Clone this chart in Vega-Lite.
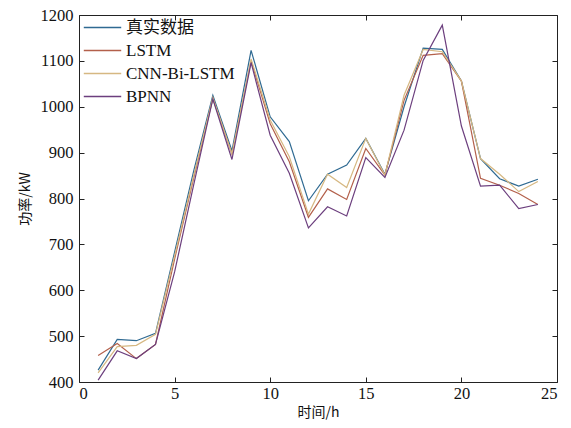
{
  "$schema": "https://vega.github.io/schema/vega-lite/v6.json",
  "width": 478,
  "height": 367,
  "autosize": {"type": "none"},
  "padding": {"left": 79, "top": 15, "right": 14, "bottom": 46},
  "background": "white",
  "config": {
    "font": "Liberation Serif, Noto Sans CJK SC",
    "view": {"stroke": "#222", "strokeWidth": 1},
    "axis": {
      "grid": false,
      "domain": false,
      "tickColor": "#222",
      "tickSize": -5,
      "tickWidth": 1,
      "labelFont": "Liberation Serif",
      "labelFontSize": 16.5,
      "labelColor": "#111",
      "format": "d",
      "titleFont": "Noto Sans CJK SC, Liberation Serif",
      "titleFontSize": 14,
      "titleFontWeight": "normal",
      "titleColor": "#111"
    },
    "legend": {
      "labelFont": "Liberation Serif, Noto Sans CJK SC",
      "labelFontSize": 17,
      "labelColor": "#111"
    }
  },
  "datasets": {
    "d": [
      {"h":1,"s":"真实数据","v":426},{"h":2,"s":"真实数据","v":493},{"h":3,"s":"真实数据","v":490},{"h":4,"s":"真实数据","v":506},{"h":5,"s":"真实数据","v":683},{"h":6,"s":"真实数据","v":860},{"h":7,"s":"真实数据","v":1025},{"h":8,"s":"真实数据","v":904},{"h":9,"s":"真实数据","v":1123},{"h":10,"s":"真实数据","v":978},{"h":11,"s":"真实数据","v":924},{"h":12,"s":"真实数据","v":795},{"h":13,"s":"真实数据","v":853},{"h":14,"s":"真实数据","v":873},{"h":15,"s":"真实数据","v":931},{"h":16,"s":"真实数据","v":853},{"h":17,"s":"真实数据","v":1000},{"h":18,"s":"真实数据","v":1128},{"h":19,"s":"真实数据","v":1125},{"h":20,"s":"真实数据","v":1056},{"h":21,"s":"真实数据","v":887},{"h":22,"s":"真实数据","v":843},{"h":23,"s":"真实数据","v":827},{"h":24,"s":"真实数据","v":842},
      {"h":1,"s":"LSTM","v":458},{"h":2,"s":"LSTM","v":484},{"h":3,"s":"LSTM","v":451},{"h":4,"s":"LSTM","v":482},{"h":5,"s":"LSTM","v":668},{"h":6,"s":"LSTM","v":845},{"h":7,"s":"LSTM","v":1018},{"h":8,"s":"LSTM","v":897},{"h":9,"s":"LSTM","v":1100},{"h":10,"s":"LSTM","v":963},{"h":11,"s":"LSTM","v":880},{"h":12,"s":"LSTM","v":759},{"h":13,"s":"LSTM","v":821},{"h":14,"s":"LSTM","v":798},{"h":15,"s":"LSTM","v":909},{"h":16,"s":"LSTM","v":851},{"h":17,"s":"LSTM","v":1014},{"h":18,"s":"LSTM","v":1112},{"h":19,"s":"LSTM","v":1116},{"h":20,"s":"LSTM","v":1056},{"h":21,"s":"LSTM","v":844},{"h":22,"s":"LSTM","v":829},{"h":23,"s":"LSTM","v":811},{"h":24,"s":"LSTM","v":787},
      {"h":1,"s":"CNN-Bi-LSTM","v":420},{"h":2,"s":"CNN-Bi-LSTM","v":477},{"h":3,"s":"CNN-Bi-LSTM","v":480},{"h":4,"s":"CNN-Bi-LSTM","v":504},{"h":5,"s":"CNN-Bi-LSTM","v":675},{"h":6,"s":"CNN-Bi-LSTM","v":850},{"h":7,"s":"CNN-Bi-LSTM","v":1020},{"h":8,"s":"CNN-Bi-LSTM","v":897},{"h":9,"s":"CNN-Bi-LSTM","v":1104},{"h":10,"s":"CNN-Bi-LSTM","v":971},{"h":11,"s":"CNN-Bi-LSTM","v":891},{"h":12,"s":"CNN-Bi-LSTM","v":766},{"h":13,"s":"CNN-Bi-LSTM","v":853},{"h":14,"s":"CNN-Bi-LSTM","v":824},{"h":15,"s":"CNN-Bi-LSTM","v":931},{"h":16,"s":"CNN-Bi-LSTM","v":851},{"h":17,"s":"CNN-Bi-LSTM","v":1025},{"h":18,"s":"CNN-Bi-LSTM","v":1125},{"h":19,"s":"CNN-Bi-LSTM","v":1120},{"h":20,"s":"CNN-Bi-LSTM","v":1056},{"h":21,"s":"CNN-Bi-LSTM","v":887},{"h":22,"s":"CNN-Bi-LSTM","v":853},{"h":23,"s":"CNN-Bi-LSTM","v":815},{"h":24,"s":"CNN-Bi-LSTM","v":837},
      {"h":1,"s":"BPNN","v":404},{"h":2,"s":"BPNN","v":468},{"h":3,"s":"BPNN","v":451},{"h":4,"s":"BPNN","v":482},{"h":5,"s":"BPNN","v":640},{"h":6,"s":"BPNN","v":830},{"h":7,"s":"BPNN","v":1017},{"h":8,"s":"BPNN","v":885},{"h":9,"s":"BPNN","v":1096},{"h":10,"s":"BPNN","v":938},{"h":11,"s":"BPNN","v":855},{"h":12,"s":"BPNN","v":736},{"h":13,"s":"BPNN","v":782},{"h":14,"s":"BPNN","v":762},{"h":15,"s":"BPNN","v":889},{"h":16,"s":"BPNN","v":846},{"h":17,"s":"BPNN","v":949},{"h":18,"s":"BPNN","v":1101},{"h":19,"s":"BPNN","v":1178},{"h":20,"s":"BPNN","v":958},{"h":21,"s":"BPNN","v":827},{"h":22,"s":"BPNN","v":829},{"h":23,"s":"BPNN","v":778},{"h":24,"s":"BPNN","v":787}
    ]
  },
  "data": {"name": "d"},
  "layer": [
    {
      "mark": {"type": "line", "strokeWidth": 1.2, "clip": true},
      "encoding": {
        "x": {"field": "h", "type": "quantitative", "scale": {"domain": [0, 25], "nice": false},
              "axis": {"orient": "bottom", "values": [0,5,10,15,20,25], "format": "d", "title": "时间/h", "labelPadding": 8, "titlePadding": 4}},
        "y": {"field": "v", "type": "quantitative", "scale": {"domain": [400, 1200], "nice": false, "zero": false},
              "axis": {"orient": "left", "values": [400,500,600,700,800,900,1000,1100,1200], "format": "d", "title": "功率/kW", "labelPadding": 11, "titlePadding": 8}},
        "color": {"field": "s", "type": "nominal", "sort": null,
                  "scale": {"domain": ["真实数据", "LSTM", "CNN-Bi-LSTM", "BPNN"], "range": ["#2f6a92", "#b3604b", "#d6b882", "#6c3f7e"]},
                  "legend": {"title": null, "orient": "none", "legendX": 4, "legendY": 1, "symbolType": "stroke", "symbolSize": 1400, "symbolStrokeWidth": 1.3, "clipHeight": 23, "rowPadding": 0, "labelOffset": 4}}
      }
    },
    {
      "mark": {"type": "line", "opacity": 0},
      "encoding": {
        "x": {"field": "h", "type": "quantitative", "scale": {"domain": [0, 25], "nice": false},
              "axis": {"orient": "top", "values": [0,5,10,15,20,25], "labels": false, "title": null}},
        "y": {"field": "v", "type": "quantitative", "scale": {"domain": [400, 1200], "nice": false, "zero": false},
              "axis": {"orient": "right", "values": [400,500,600,700,800,900,1000,1100,1200], "labels": false, "title": null}},
        "detail": {"field": "s"}
      }
    }
  ],
  "resolve": {"axis": {"x": "independent", "y": "independent"}}
}
